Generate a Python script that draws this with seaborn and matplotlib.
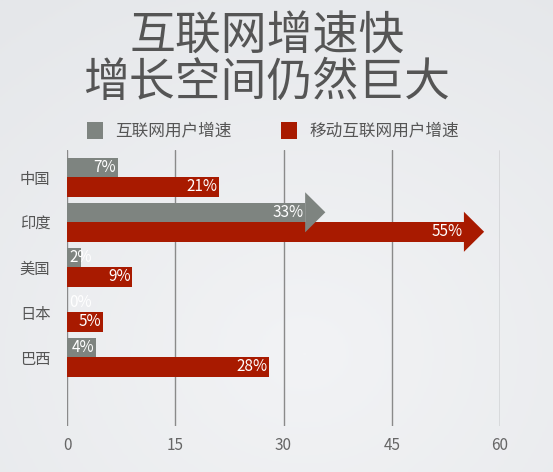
import numpy as np
import pandas as pd
import matplotlib
matplotlib.use("Agg")
import matplotlib.pyplot as plt
from matplotlib.patches import Polygon
import seaborn as sns

# ---- data ----
countries = ["中国", "印度", "美国", "日本", "巴西"]
internet_growth = [7, 33, 2, 0, 4]
mobile_growth = [21, 55, 9, 5, 28]
series_names = ["互联网用户增速", "移动互联网用户增速"]
arrow_countries = ["印度"]
xticks = [0, 15, 30, 45, 60]
title_lines = ["互联网增速快", "增长空间仍然巨大"]

GRAY = "#7e8480"
RED = "#a81a00"
TXT = "#555555"

sns.set_theme(style="white")
plt.rcParams["font.family"] = ["Noto Sans CJK SC", "DejaVu Sans"]

df = pd.DataFrame({
    "country": countries * 2,
    "value": internet_growth + mobile_growth,
    "series": [series_names[0]] * len(countries) + [series_names[1]] * len(countries),
})

W, H = 553, 472
fig = plt.figure(figsize=(W / 100, H / 100), dpi=100)

# background gradient
bg = fig.add_axes([0, 0, 1, 1], zorder=-10)
yy, xx = np.mgrid[0:1:200j, 0:1:200j]
r = np.sqrt((xx - 0.55) ** 2 + (yy - 0.75) ** 2)
bg.imshow(r, cmap=matplotlib.colors.LinearSegmentedColormap.from_list(
    "bg", ["#f2f3f5", "#e5e7ea"]), aspect="auto", extent=[0, 1, 0, 1], origin="upper")
bg.axis("off")

ax = fig.add_axes([67 / W, 1 - 426 / H, 433 / W, 276 / H])
ax.patch.set_alpha(0)

bar_w = 0.866
sns.barplot(data=df, y="country", x="value", hue="series", orient="h",
            palette=[GRAY, RED], width=bar_w, order=countries,
            hue_order=series_names, saturation=1, ax=ax, legend=False,
            edgecolor="none", linewidth=0, errorbar=None)

ax.set_xlim(0, 60)
ax.set_ylim(5.53, -0.6)
ax.set_xticks(xticks)
ax.set_xticklabels([str(t) for t in xticks], color="#666666", fontsize=11)
ax.tick_params(axis="x", length=0, pad=8)
ax.tick_params(axis="y", length=0, pad=12, labelsize=11, labelcolor=TXT)
ax.set_xlabel("")
ax.set_ylabel("")
for s in ax.spines.values():
    s.set_visible(False)
for t in xticks:
    ax.axvline(t, color="#8a8a8a", lw=1, zorder=0)

off = bar_w / 4
head_len = 2.8
head_half = 0.445
for i, c in enumerate(countries):
    for vals, dy, col in ((internet_growth, -off, GRAY), (mobile_growth, off, RED)):
        v = vals[i]
        yc = i + dy
        if c in arrow_countries:
            ax.add_patch(Polygon([[v, yc - head_half], [v + head_len, yc], [v, yc + head_half]],
                                 closed=True, facecolor=col, edgecolor="none", zorder=3))
        if v < 3:
            ax.text(0.3, yc, f"{v}%", color="white", ha="left", va="center",
                    fontsize=11, zorder=4)
        else:
            ax.text(v - 0.2, yc, f"{v}%", color="white", ha="right", va="center",
                    fontsize=11, zorder=4)

# title
fig.text(267 / W, 1 - 36 / H, title_lines[0], ha="center", va="center",
         fontsize=33, color=TXT)
fig.text(267 / W, 1 - 83 / H, title_lines[1], ha="center", va="center",
         fontsize=33, color=TXT)

# legend
for (x0, col, name) in ((87, GRAY, series_names[0]), (281, RED, series_names[1])):
    fig.patches.append(matplotlib.patches.Rectangle(
        (x0 / W, 1 - 139 / H), 16 / W, 17 / H, transform=fig.transFigure,
        facecolor=col, edgecolor="none"))
    fig.text((x0 + 28) / W, 1 - 130.5 / H, name, ha="left", va="center",
             fontsize=12, color=TXT)

fig.savefig("out.png", dpi=100)
